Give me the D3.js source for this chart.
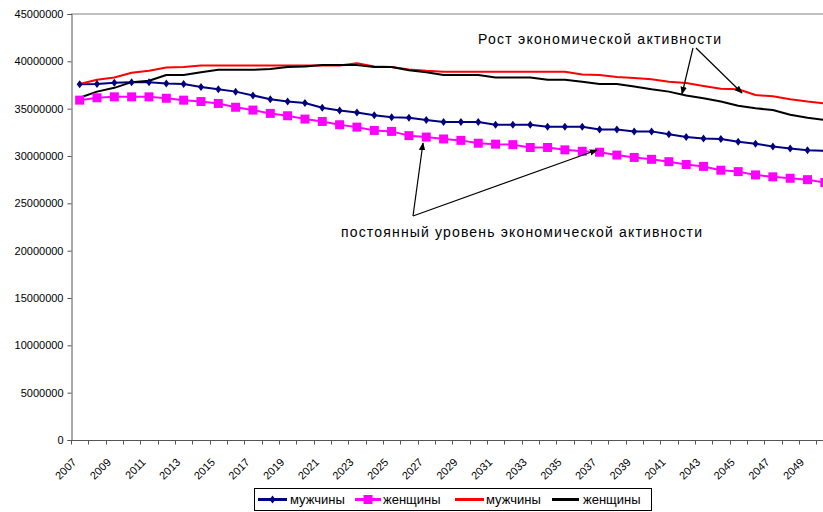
<!DOCTYPE html>
<html lang="ru">
<head>
<meta charset="utf-8">
<title>Экономическая активность</title>
<script src="https://cdn.jsdelivr.net/npm/d3@7"></script>
<style>
  html, body { margin: 0; padding: 0; background: #fff; overflow: hidden; }
  svg { display: block; font-family: "Liberation Sans", Arial, sans-serif; }
</style>
</head>
<body>
<div id="chart"></div>
<script>
// годы (категории оси X)
var years = d3.range(2007, 2051);
var yTicks = [0, 5000000, 10000000, 15000000, 20000000, 25000000, 30000000, 35000000, 40000000, 45000000];

// постоянный уровень экономической активности
var menConst = [37580000, 37600000, 37750000, 37800000, 37800000, 37650000, 37600000, 37300000, 37050000, 36800000,
  36400000, 36000000, 35750000, 35600000, 35100000, 34800000, 34600000, 34300000, 34100000, 34050000,
  33800000, 33600000, 33600000, 33600000, 33300000, 33300000, 33300000, 33100000, 33100000, 33100000,
  32800000, 32800000, 32600000, 32600000, 32300000, 32000000, 31850000, 31800000, 31500000, 31300000,
  31000000, 30800000, 30600000, 30550000];
var womenConst = [35900000, 36150000, 36250000, 36250000, 36250000, 36100000, 35900000, 35750000, 35550000, 35150000,
  34850000, 34500000, 34250000, 33900000, 33650000, 33300000, 33050000, 32700000, 32600000, 32150000,
  32000000, 31800000, 31650000, 31350000, 31250000, 31200000, 30900000, 30900000, 30650000, 30500000,
  30400000, 30100000, 29850000, 29650000, 29400000, 29100000, 28900000, 28500000, 28350000, 28000000,
  27800000, 27650000, 27500000, 27200000];

// рост экономической активности
var menGrowth = [37600000, 38050000, 38300000, 38800000, 39000000, 39350000, 39400000, 39550000, 39550000, 39550000,
  39550000, 39550000, 39550000, 39550000, 39550000, 39550000, 39800000, 39450000, 39400000, 39150000,
  39000000, 38900000, 38900000, 38900000, 38900000, 38900000, 38900000, 38900000, 38900000, 38600000,
  38550000, 38350000, 38250000, 38100000, 37850000, 37700000, 37400000, 37100000, 37050000, 36450000,
  36300000, 36000000, 35750000, 35550000];
var womenGrowth = [36150000, 36800000, 37200000, 37800000, 37950000, 38550000, 38550000, 38850000, 39100000, 39100000,
  39100000, 39200000, 39400000, 39450000, 39600000, 39600000, 39600000, 39400000, 39400000, 39050000,
  38850000, 38550000, 38550000, 38550000, 38300000, 38300000, 38300000, 38050000, 38050000, 37850000,
  37600000, 37600000, 37350000, 37050000, 36800000, 36400000, 36100000, 35750000, 35300000, 35050000,
  34850000, 34350000, 34050000, 33800000];

var seriesNames = ["мужчины", "женщины", "мужчины", "женщины"];
var seriesColors = ["#000080", "#ff00ff", "#ff0000", "#000000"];
var seriesMarkers = ["diamond", "square", null, null];
var seriesValues = [menConst, womenConst, menGrowth, womenGrowth];

var W = 823, H = 512;
var svg = d3.select("#chart").append("svg")
    .attr("width", W).attr("height", H);

// шкалы
var x = d3.scaleBand().domain(years).range([71, 833.5]).padding(0);
var y = d3.scaleLinear().domain([0, 45000000]).range([440, 14]);
var cx = function (yr) { return x(yr) + x.bandwidth() / 2; };

// рамка сверху
svg.append("line")
    .attr("x1", 71).attr("x2", W).attr("y1", y(45000000)).attr("y2", y(45000000))
    .attr("stroke", "#808080").attr("stroke-width", 1);

// ось Y
var yAxis = svg.append("g").attr("transform", "translate(71.5,0)")
    .call(d3.axisLeft(y).tickValues(yTicks).tickSize(4).tickPadding(4).tickFormat(d3.format("d")));
yAxis.select(".domain").attr("stroke", "#555");
yAxis.selectAll(".tick line").attr("stroke", "#555");
yAxis.selectAll("text").attr("font-size", 11).attr("fill", "#000")
    .attr("font-family", "'Liberation Sans', Arial, sans-serif");

// ось X
var xAxis = svg.append("g").attr("transform", "translate(0,440.5)");
xAxis.append("line").attr("x1", 71).attr("x2", W).attr("stroke", "#555");
xAxis.selectAll("line.tk").data(years).enter().append("line")
    .attr("class", "tk")
    .attr("x1", function (d) { return Math.round(x(d)) + 0.5; })
    .attr("x2", function (d) { return Math.round(x(d)) + 0.5; })
    .attr("y1", 0).attr("y2", 4).attr("stroke", "#555");
xAxis.selectAll("text").data(years.filter(function (d) { return (d - 2007) % 2 === 0; }))
    .enter().append("text")
    .attr("transform", function (d) { return "translate(" + (cx(d) - 8) + ",17) rotate(-45)"; })
    .attr("text-anchor", "end")
    .attr("dy", "0.7em")
    .attr("font-size", 11)
    .text(function (d) { return d; });

// линии
var line = d3.line()
    .x(function (d, i) { return cx(years[i]); })
    .y(function (d) { return y(d); });

var plot = svg.append("g");
seriesValues.forEach(function (vals, k) {
    plot.append("path")
        .datum(vals)
        .attr("fill", "none")
        .attr("stroke", seriesColors[k])
        .attr("stroke-width", 2)
        .attr("stroke-linejoin", "round")
        .attr("d", line);
});

function drawMarker(sel, kind, color) {
    if (kind === "square") {
        sel.append("rect")
            .attr("x", -4.5).attr("y", -4.5).attr("width", 9).attr("height", 9)
            .attr("fill", color);
    } else if (kind === "diamond") {
        sel.append("path")
            .attr("d", "M0,-4L3,0L0,4L-3,0Z")
            .attr("fill", color);
    }
}

seriesValues.forEach(function (vals, k) {
    if (!seriesMarkers[k]) return;
    plot.selectAll(null).data(vals).enter().append("g")
        .attr("transform", function (d, i) { return "translate(" + cx(years[i]) + "," + y(d) + ")"; })
        .each(function () { drawMarker(d3.select(this), seriesMarkers[k], seriesColors[k]); });
});

// стрелки и подписи
var defs = svg.append("defs");
defs.append("marker")
    .attr("id", "arr").attr("viewBox", "0 0 10 10")
    .attr("refX", 9).attr("refY", 5)
    .attr("markerWidth", 8).attr("markerHeight", 8)
    .attr("markerUnits", "userSpaceOnUse")
    .attr("orient", "auto")
    .append("path").attr("d", "M0,1L10,5L0,9Z").attr("fill", "#000");

var arrows = [
    [693, 48, 682, 94],
    [696, 48, 742, 93],
    [413, 216, 423, 143],
    [413, 216, 597, 150]
];
svg.selectAll("line.arrow").data(arrows).enter().append("line")
    .attr("class", "arrow")
    .attr("x1", function (d) { return d[0]; }).attr("y1", function (d) { return d[1]; })
    .attr("x2", function (d) { return d[2]; }).attr("y2", function (d) { return d[3]; })
    .attr("stroke", "#000").attr("stroke-width", 1.2)
    .attr("marker-end", "url(#arr)");

svg.append("text")
    .attr("x", 478).attr("y", 44)
    .attr("font-size", 14)
    .attr("textLength", 243)
    .text("Рост экономической активности");

svg.append("text")
    .attr("x", 341).attr("y", 237)
    .attr("font-size", 14)
    .attr("textLength", 361)
    .text("постоянный уровень экономической активности");

// легенда
var legend = svg.append("g");
legend.append("rect")
    .attr("x", 254.5).attr("y", 488.5).attr("width", 397).attr("height", 22)
    .attr("fill", "#fff").attr("stroke", "#000");

var legItems = [
    { x0: 258, x1: 287, tx: 290 },
    { x0: 355, x1: 381, tx: 383 },
    { x0: 455, x1: 484, tx: 486 },
    { x0: 552, x1: 579, tx: 583 }
];
legItems.forEach(function (it, k) {
    var g = legend.append("g");
    g.append("line")
        .attr("x1", it.x0).attr("x2", it.x1).attr("y1", 499.5).attr("y2", 499.5)
        .attr("stroke", seriesColors[k]).attr("stroke-width", 3);
    if (seriesMarkers[k]) {
        var m = g.append("g").attr("transform", "translate(" + ((it.x0 + it.x1) / 2) + ",499.5)");
        drawMarker(m, seriesMarkers[k], seriesColors[k]);
    }
    g.append("text")
        .attr("x", it.tx).attr("y", 504)
        .attr("font-size", 13)
        .text(seriesNames[k]);
});
</script>
</body>
</html>
